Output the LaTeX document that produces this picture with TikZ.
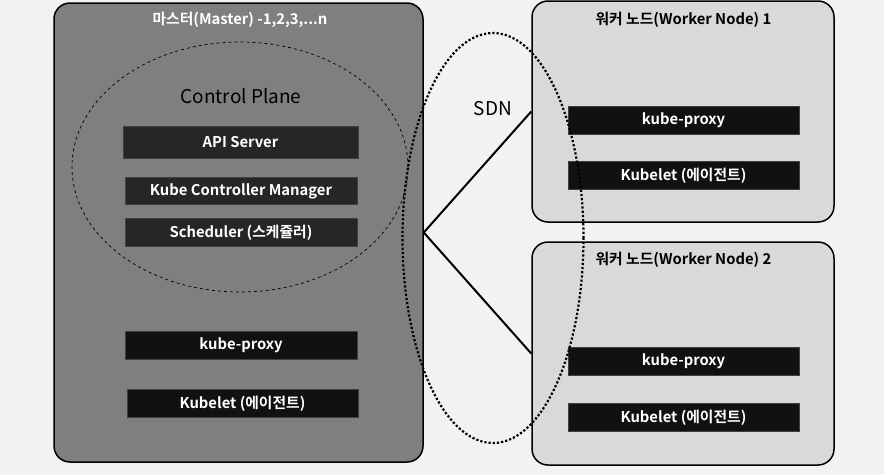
\documentclass[tikz,border=0pt]{standalone}
\usepackage{fontspec}
\setmainfont{Noto Sans CJK KR}[BoldFont={Noto Sans CJK KR Bold}]
\usetikzlibrary{shapes.geometric}

\definecolor{bggray}{HTML}{F2F2F2}
\definecolor{mastergray}{HTML}{7F7F7F}
\definecolor{workergray}{HTML}{D9D9D9}
\definecolor{cpbox}{HTML}{262626}
\definecolor{agentbox}{HTML}{111111}

\tikzset{
  hostbox/.style={draw=black, line width=1.5pt, rounded corners=16pt, inner sep=0pt},
  compbox/.style={draw=black!75, line width=0.8pt, fill=cpbox, text=white, inner sep=0pt,
    minimum height=28pt, font=\fontsize{14.8}{16}\selectfont\bfseries},
  agent/.style={compbox, fill=agentbox, minimum width=231pt},
  title/.style={font=\fontsize{14.8}{16}\selectfont\bfseries},
  bigtext/.style={font=\fontsize{19}{22}\selectfont},
  link/.style={line width=2pt}
}

\begin{document}
\begin{tikzpicture}[x=1pt,y=-1pt]

% background
\fill[bggray] (0,0) rectangle (884,475);
\useasboundingbox (0,0) rectangle (884,475);

% master
\node[hostbox, fill=mastergray, minimum width=369pt, minimum height=459pt] (master) at (238.5,232.5) {};
\node[title, text=white] (mastertitle) at (240,20) {마스터(Master) -1,2,3,...n};

% control plane
\node[draw, dashed, line width=0.7pt, ellipse, minimum width=336pt, minimum height=250pt] (cp) at (240,167) {};
\node[bigtext] (cptitle) at (241,96) {Control Plane};
\node[compbox, minimum width=235pt, minimum height=32pt] (api) at (240.5,142.5) {API Server};
\node[compbox, minimum width=232pt, minimum height=27pt] (kcm) at (241,191) {Kube Controller Manager};
\node[compbox, minimum width=232pt] (sched) at (241,232.5) {Scheduler (스케쥴러)};

% master agents
\node[agent, minimum width=232pt] (mproxy) at (241,345) {kube-proxy};
\node[agent] (mkubelet) at (242.5,403.5) {Kubelet (에이전트)};

% worker 1
\node[hostbox, fill=workergray, minimum width=302pt, minimum height=221pt] (worker1) at (683,111.5) {};
\node[title] (w1title) at (683.5,20) {워커 노드(Worker Node) 1};
\node[agent] (w1proxy) at (683.5,120.5) {kube-proxy};
\node[agent] (w1kubelet) at (683.5,175.5) {Kubelet (에이전트)};

% worker 2
\node[hostbox, fill=workergray, minimum width=302pt, minimum height=223pt] (worker2) at (683,353.5) {};
\node[title] (w2title) at (683.5,260) {워커 노드(Worker Node) 2};
\node[agent] (w2proxy) at (683.5,361.5) {kube-proxy};
\node[agent] (w2kubelet) at (683.5,417.5) {Kubelet (에이전트)};

% SDN
\node[draw, dotted, line width=2.2pt, ellipse, minimum width=181pt, minimum height=410pt] (sdn) at (493,238) {};
\node[bigtext] (sdnlabel) at (493,109) {SDN};
\draw[link] (master.east) -- (worker1.west);
\draw[link] (master.east) -- (worker2.west);

\end{tikzpicture}
\end{document}
